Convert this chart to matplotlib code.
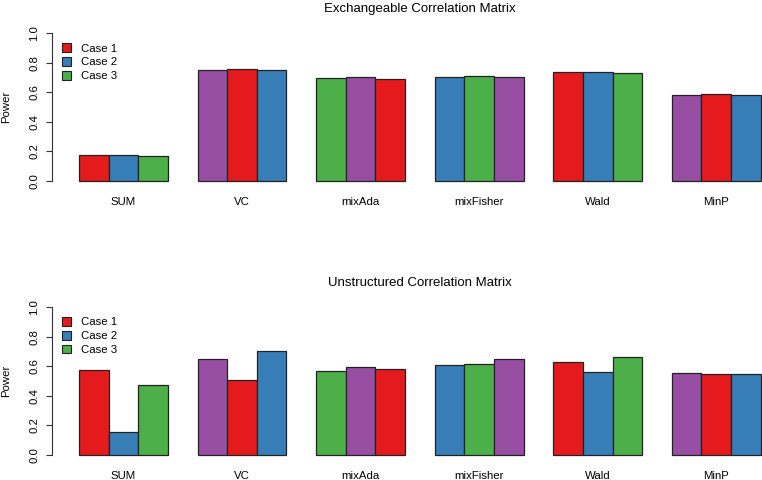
import numpy as np
import matplotlib
matplotlib.use('Agg')
import matplotlib.pyplot as plt
from matplotlib.patches import Patch

plt.rcParams['font.family'] = ['Liberation Sans', 'DejaVu Sans']

#%% data
methods = ['SUM', 'VC', 'mixAda', 'mixFisher', 'Wald', 'MinP']
cases = ['Case 1', 'Case 2', 'Case 3']
# power per method (rows) and case (columns)
power_exch = [[0.176, 0.179, 0.169],
              [0.754, 0.758, 0.751],
              [0.697, 0.702, 0.693],
              [0.704, 0.709, 0.704],
              [0.736, 0.738, 0.731],
              [0.580, 0.587, 0.580]]
power_unstr = [[0.572, 0.155, 0.471],
               [0.651, 0.505, 0.705],
               [0.565, 0.593, 0.583],
               [0.608, 0.615, 0.651],
               [0.626, 0.559, 0.662],
               [0.556, 0.545, 0.545]]
titles = ['Exchangeable Correlation Matrix', 'Unstructured Correlation Matrix']

# Set1 palette, recycled over all bars like R does
pal = ['#E41A1C', '#377EB8', '#4DAF4A', '#984EA3']

#%% figure
fig = plt.figure(figsize=(7.62, 4.8), dpi=100)
W, H = 762.0, 480.0
# axes rectangles in pixels (left, right, bottom, top), right side runs off the page
x0, x1 = 51.7, 788.0
panels = [(186.9, 27.4), (460.9, 301.1)]

def draw_panel(ax, vals, title):
    vals = np.array(vals)
    ng, nb = vals.shape
    k = 0
    for i in range(ng):
        for j in range(nb):
            xc = 1 + i * (nb + 1) + j + 0.5
            ax.bar(xc, vals[i, j], width=1.0, color=pal[k % len(pal)],
                   edgecolor='#222222', linewidth=0.9)
            k += 1
    ax.set_xlim(0.08, 24.92)
    ax.set_ylim(-0.04, 1.04)
    centers = [1 + i * (nb + 1) + nb / 2.0 for i in range(ng)]
    ax.set_xticks(centers)
    ax.set_xticklabels(methods, fontsize=8.2)
    ax.tick_params(axis='x', length=0, pad=7)
    ax.set_yticks(np.arange(0, 1.01, 0.2))
    ax.set_yticklabels(['%.1f' % v for v in np.arange(0, 1.01, 0.2)],
                       fontsize=8.2, rotation=90, va='center')
    ax.tick_params(axis='y', length=4, width=0.8, pad=5, color='#333333')
    for s in ['top', 'right', 'bottom']:
        ax.spines[s].set_visible(False)
    ax.spines['left'].set_bounds(0, 1)
    ax.spines['left'].set_linewidth(0.8)
    ax.spines['left'].set_color('#333333')
    ax.set_ylabel('Power', fontsize=8.2)
    ax.yaxis.set_label_coords((11 - x0) / (x1 - x0), 0.5)
    ax.set_title(title, fontsize=9.5, pad=11)
    handles = [Patch(facecolor=pal[j], edgecolor='#222222', linewidth=0.8)
               for j in range(len(cases))]
    ax.legend(handles, cases, loc='upper left', frameon=False, fontsize=8.2,
              bbox_to_anchor=(0.003, 0.95), handlelength=0.8, handleheight=0.8,
              handletextpad=0.9, labelspacing=0.3, borderpad=0.2)

for (bot, top), vals, title in zip(panels, [power_exch, power_unstr], titles):
    ax = fig.add_axes([x0 / W, (H - bot) / H, (x1 - x0) / W, (bot - top) / H])
    draw_panel(ax, vals, title)

fig.savefig('out.png', dpi=100)
